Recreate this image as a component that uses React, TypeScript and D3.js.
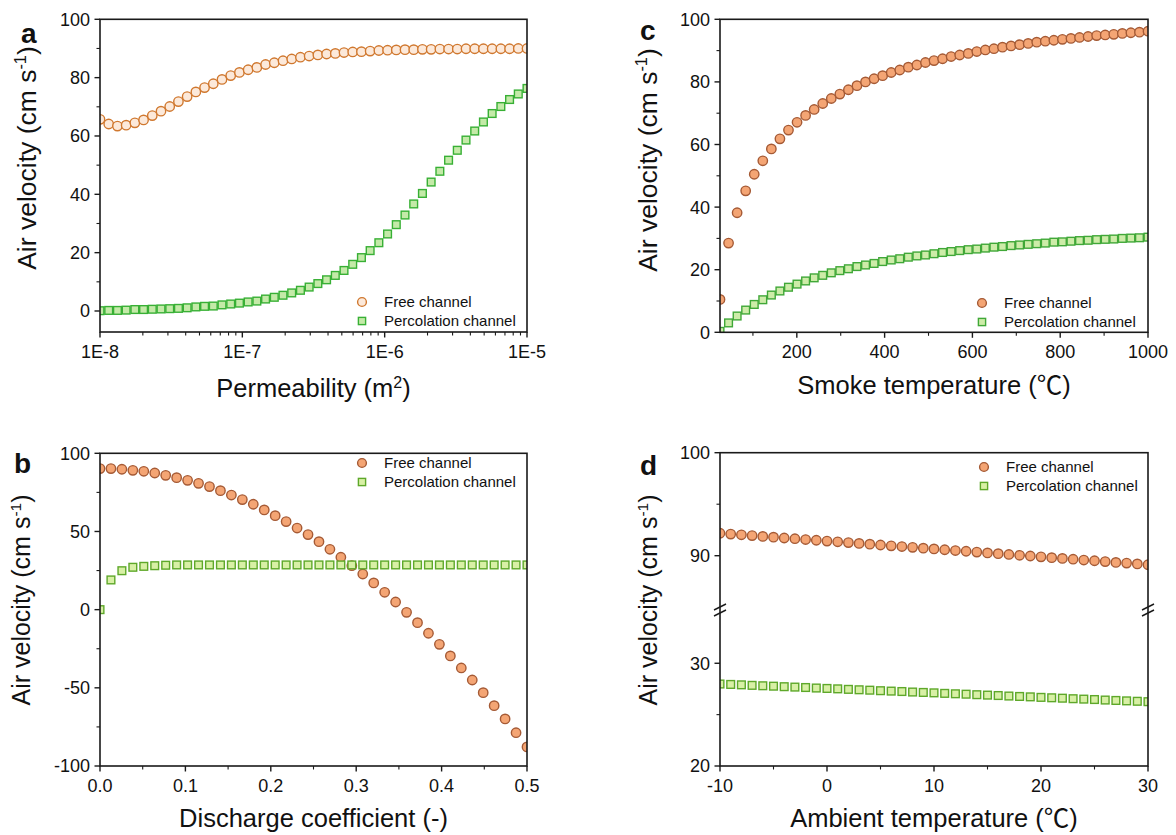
import React from 'react';
import * as d3 from 'd3';

const FONT = "'Liberation Sans', Arial, Helvetica, sans-serif";
const CJK = "'Noto Sans CJK SC', 'DejaVu Sans', sans-serif";
const AXIS = '#1a1a1a';

// ---- panel a: permeability (log10 exponents of m^2) ----
const permExp = d3.range(50).map((i) => -8 + (3 * i) / 49);
const aFree = [
  65.7, 64.1, 63.4, 63.7, 64.5, 65.5, 67.0, 68.5, 70.1, 71.8,
  73.5, 75.1, 76.6, 77.9, 79.4, 80.7, 81.8, 82.7, 83.5, 84.5,
  85.1, 85.8, 86.4, 87.0, 87.4, 87.8, 88.1, 88.3, 88.6, 88.8,
  88.9, 89.1, 89.3, 89.4, 89.5, 89.6, 89.6, 89.7, 89.7, 89.8,
  89.8, 89.8, 89.9, 89.9, 89.9, 89.9, 89.9, 89.9, 90.0, 90.0,
];
const aPerc = [
  0.1, 0.2, 0.2, 0.3, 0.5, 0.5, 0.6, 0.7, 0.8, 0.9,
  1.1, 1.4, 1.6, 1.7, 2.1, 2.4, 2.7, 3.1, 3.4, 4.1,
  4.7, 5.4, 6.2, 7.1, 8.2, 9.4, 10.7, 12.2, 13.9, 16.0,
  18.3, 20.7, 23.4, 26.4, 29.6, 32.9, 36.7, 40.3, 44.2, 47.9,
  51.7, 55.1, 58.6, 61.7, 64.8, 67.7, 70.1, 72.5, 74.4, 76.3,
];

// ---- panel b: discharge coefficient ----
const dischargeCoef = d3.range(40).map((i) => (0.5 * i) / 39);
const bFree = [
  90.2, 90.2, 89.8, 89.1, 88.5, 87.4, 85.9, 84.4, 82.7, 80.8,
  78.7, 76.1, 73.3, 70.4, 67.4, 63.8, 60.1, 56.3, 52.2, 48.0,
  43.5, 38.6, 33.5, 28.1, 22.8, 17.1, 11.1, 4.9, -1.7, -8.3,
  -15.1, -22.2, -29.6, -37.3, -45.0, -53.1, -61.4, -69.9, -78.7, -87.8,
];
const bPerc = [
  0, 19.0, 24.9, 27.1, 27.7, 28.1, 28.4, 28.6, 28.6, 28.6,
  28.6, 28.6, 28.6, 28.6, 28.6, 28.6, 28.6, 28.6, 28.6, 28.6,
  28.6, 28.6, 28.6, 28.6, 28.6, 28.6, 28.6, 28.6, 28.6, 28.6,
  28.6, 28.6, 28.6, 28.6, 28.6, 28.6, 28.6, 28.6, 28.6, 28.6,
];

// ---- panel c: smoke temperature ----
const smokeTemp = d3.range(51).map((i) => 25 + 19.5 * i);
const cFree = [
  10.5, 28.5, 38.2, 45.2, 50.5, 54.8, 58.6, 61.8, 64.6, 67.1,
  69.3, 71.2, 73.1, 74.7, 76.1, 77.5, 78.8, 80.0, 81.0, 82.0,
  83.0, 83.8, 84.7, 85.4, 86.2, 86.8, 87.4, 88.1, 88.6, 89.1,
  89.7, 90.2, 90.6, 91.1, 91.5, 91.9, 92.3, 92.7, 93.0, 93.3,
  93.6, 93.9, 94.2, 94.5, 94.8, 95.0, 95.2, 95.5, 95.7, 95.9, 96.2,
];
const cPerc = [
  0.3, 3.0, 5.2, 7.1, 8.9, 10.4, 11.9, 13.2, 14.4, 15.4,
  16.4, 17.4, 18.2, 19.0, 19.7, 20.3, 21.0, 21.5, 22.0, 22.6,
  23.1, 23.5, 24.0, 24.4, 24.7, 25.1, 25.5, 25.8, 26.1, 26.4,
  26.6, 26.9, 27.2, 27.4, 27.7, 27.9, 28.1, 28.3, 28.5, 28.8,
  28.9, 29.1, 29.3, 29.4, 29.6, 29.7, 29.8, 30.0, 30.1, 30.2, 30.4,
];

// ---- panel d: ambient temperature ----
const ambientTemp = d3.range(41).map((i) => -10 + i);
const dFree = [
  92.18, 92.10, 92.03, 91.95, 91.87, 91.80, 91.72, 91.65, 91.57, 91.50,
  91.42, 91.35, 91.27, 91.19, 91.12, 91.04, 90.96, 90.89, 90.81, 90.73,
  90.66, 90.58, 90.50, 90.43, 90.35, 90.27, 90.20, 90.12, 90.04, 89.97,
  89.89, 89.81, 89.74, 89.66, 89.58, 89.51, 89.43, 89.35, 89.28, 89.20, 89.12,
];
const dPerc = [
  27.98, 27.94, 27.90, 27.85, 27.81, 27.77, 27.72, 27.68, 27.64, 27.59,
  27.55, 27.51, 27.46, 27.42, 27.38, 27.33, 27.29, 27.25, 27.20, 27.16,
  27.12, 27.07, 27.03, 26.99, 26.94, 26.90, 26.86, 26.81, 26.77, 26.73,
  26.68, 26.64, 26.60, 26.55, 26.51, 26.47, 26.42, 26.38, 26.34, 26.30, 26.26,
];

const legendLabels = ['Free channel', 'Percolation channel'];

type Style = { stroke: string; fill: string };
const freeLight: Style = { stroke: '#d0782f', fill: '#fce9da' };
const percLight: Style = { stroke: '#38b035', fill: '#c4eaa8' };
const freeDark: Style = { stroke: '#a55a35', fill: '#f4a574' };
const percC: Style = { stroke: '#40a838', fill: '#cdeca8' };
const percYel: Style = { stroke: '#5ea82a', fill: '#d8f0a5' };

type Seg = { y: any; majors: number[]; minors: number[] };
type Series = { xs: number[]; ys: number[]; shape: 'circle' | 'square'; style: Style; seg: number };

interface PanelProps {
  id: string;
  letter: string;
  letterPos: [number, number];
  left: number;
  right: number;
  top: number;
  bottom: number;
  x: any;
  xMajors: number[];
  xMinors: number[];
  xFmt: (v: number) => string;
  xTitle: React.ReactNode;
  xTitleY: number;
  segs: Seg[];
  yTitlePos: [number, number];
  yTitleSize: number;
  series: Series[];
  legend: [number, number];
  breakY?: number;
}

const Marker = ({ shape, cx, cy, style, r = 4.7 }: { shape: string; cx: number; cy: number; style: Style; r?: number }) =>
  shape === 'circle' ? (
    <circle cx={cx} cy={cy} r={r} fill={style.fill} stroke={style.stroke} strokeWidth={1.4} />
  ) : (
    <rect x={cx - r * 0.82} y={cy - r * 0.82} width={r * 1.64} height={r * 1.64} fill={style.fill} stroke={style.stroke} strokeWidth={1.4} />
  );

const Panel = (p: PanelProps) => {
  const { left, right, top, bottom } = p;
  const ts = p.yTitleSize;
  return (
    <g fontFamily={FONT} fill="#111">
      <defs>
        <clipPath id={p.id}>
          <rect x={left} y={top} width={right - left} height={bottom - top} />
        </clipPath>
      </defs>
      <g clipPath={`url(#${p.id})`}>
        {p.series.map((s, si) =>
          s.xs.map((xv, i) => (
            <Marker key={`${si}-${i}`} shape={s.shape} cx={p.x(xv)} cy={p.segs[s.seg].y(s.ys[i])} style={s.style} />
          ))
        )}
      </g>
      <rect x={left} y={top} width={right - left} height={bottom - top} fill="none" stroke={AXIS} strokeWidth={1.6} />
      {/* x ticks */}
      {p.xMajors.map((v) => (
        <g key={`xm${v}`}>
          <line x1={p.x(v)} x2={p.x(v)} y1={bottom} y2={bottom + 5.5} stroke={AXIS} strokeWidth={1.4} />
          <text x={p.x(v)} y={bottom + 26} textAnchor="middle" fontSize={18}>
            {p.xFmt(v)}
          </text>
        </g>
      ))}
      {p.xMinors.map((v) => (
        <line key={`xn${v}`} x1={p.x(v)} x2={p.x(v)} y1={bottom} y2={bottom + 3.5} stroke={AXIS} strokeWidth={1.1} />
      ))}
      {/* y ticks */}
      {p.segs.map((sg, k) => (
        <g key={`seg${k}`}>
          {sg.majors.map((v) => (
            <g key={`ym${v}`}>
              <line x1={left - 5.5} x2={left} y1={sg.y(v)} y2={sg.y(v)} stroke={AXIS} strokeWidth={1.4} />
              <text x={left - 10} y={sg.y(v)} dy="0.36em" textAnchor="end" fontSize={18}>
                {v}
              </text>
            </g>
          ))}
          {sg.minors.map((v) => (
            <line key={`yn${v}`} x1={left - 3.5} x2={left} y1={sg.y(v)} y2={sg.y(v)} stroke={AXIS} strokeWidth={1.1} />
          ))}
        </g>
      ))}
      {p.breakY !== undefined &&
        [left, right].map((bx) => (
          <g key={`br${bx}`} stroke={AXIS} strokeWidth={1.5}>
            <line x1={bx - 6} x2={bx + 6} y1={p.breakY!} y2={p.breakY! - 6} />
            <line x1={bx - 6} x2={bx + 6} y1={p.breakY! + 6} y2={p.breakY!} />
          </g>
        ))}
      {/* titles */}
      <text x={(left + right) / 2} y={p.xTitleY} textAnchor="middle" fontSize={25.5}>
        {p.xTitle}
      </text>
      <text transform={`translate(${p.yTitlePos[0]},${p.yTitlePos[1]}) rotate(-90)`} textAnchor="middle" fontSize={ts}>
        Air velocity (cm s
        <tspan dy={-ts * 0.38} fontSize={ts * 0.62}>
          -1
        </tspan>
        <tspan dy={ts * 0.38}>)</tspan>
      </text>
      <text x={p.letterPos[0]} y={p.letterPos[1]} fontSize={28} fontWeight="bold">
        {p.letter}
      </text>
      {/* legend */}
      {p.series.map((s, i) => (
        <g key={`lg${i}`}>
          <Marker shape={s.shape} cx={p.legend[0]} cy={p.legend[1] + i * 19} style={s.style} r={4.4} />
          <text x={p.legend[0] + 22} y={p.legend[1] + i * 19 + 5.3} fontSize={15}>
            {legendLabels[i]}
          </text>
        </g>
      ))}
    </g>
  );
};

const range = (a: number, b: number, s: number) => d3.range(a, b + s / 2, s);

export default function App() {
  // panel a
  const xA = d3.scaleLog().domain([1e-8, 1e-5]).range([100, 527]);
  const yA = d3.scaleLinear().domain([-7.2, 100]).range([332, 19.3]);
  const logMinors: number[] = [];
  [-8, -7, -6].forEach((e) => d3.range(2, 10).forEach((k) => logMinors.push(k * 10 ** e)));

  // panel b
  const xB = d3.scaleLinear().domain([0, 0.5]).range([100, 527]);
  const yB = d3.scaleLinear().domain([-100, 100]).range([766, 453.3]);

  // panel c
  const xC = d3.scaleLinear().domain([25, 1000]).range([720, 1148]);
  const yC = d3.scaleLinear().domain([0, 100]).range([332.3, 19.3]);

  // panel d (broken axis)
  const xD = d3.scaleLinear().domain([-10, 30]).range([720, 1148]);
  const yDlow = d3.scaleLinear().domain([20, 35]).range([766, 611.9]);
  const yDup = d3.scaleLinear().domain([85, 100]).range([607.2, 452.7]);

  const deg = (label: string) => (
    <>
      {label} (<tspan fontFamily={CJK}>℃</tspan>)
    </>
  );

  return (
    <svg width={1176} height={835} style={{ position: 'absolute', left: 0, top: 0, background: '#fff' }}>
      <Panel
        id="clipA"
        letter="a"
        letterPos={[21, 43]}
        left={100}
        right={527}
        top={19.3}
        bottom={332}
        x={xA}
        xMajors={[1e-8, 1e-7, 1e-6, 1e-5]}
        xMinors={logMinors}
        xFmt={(v) => `1E${Math.round(Math.log10(v))}`}
        xTitle={
          <>
            Permeability (m<tspan dy={-9} fontSize={16}>2</tspan>
            <tspan dy={9}>)</tspan>
          </>
        }
        xTitleY={397}
        segs={[{ y: yA, majors: range(0, 100, 20), minors: range(10, 90, 20) }]}
        yTitlePos={[36, 158]}
        yTitleSize={26.5}
        series={[
          { xs: permExp.map((e) => 10 ** e), ys: aFree, shape: 'circle', style: freeLight, seg: 0 },
          { xs: permExp.map((e) => 10 ** e), ys: aPerc, shape: 'square', style: percLight, seg: 0 },
        ]}
        legend={[362, 302]}
      />
      <Panel
        id="clipB"
        letter="b"
        letterPos={[14, 473]}
        left={100}
        right={527}
        top={453.3}
        bottom={766}
        x={xB}
        xMajors={range(0, 0.5, 0.1)}
        xMinors={range(0.05, 0.45, 0.1)}
        xFmt={(v) => v.toFixed(1)}
        xTitle="Discharge coefficient (-)"
        xTitleY={827}
        segs={[{ y: yB, majors: range(-100, 100, 50), minors: range(-75, 75, 50) }]}
        yTitlePos={[30, 600]}
        yTitleSize={25}
        series={[
          { xs: dischargeCoef, ys: bFree, shape: 'circle', style: freeDark, seg: 0 },
          { xs: dischargeCoef, ys: bPerc, shape: 'square', style: percYel, seg: 0 },
        ]}
        legend={[362, 463]}
      />
      <Panel
        id="clipC"
        letter="c"
        letterPos={[640, 40]}
        left={720}
        right={1148}
        top={19.3}
        bottom={332.3}
        x={xC}
        xMajors={range(200, 1000, 200)}
        xMinors={range(100, 900, 200)}
        xFmt={(v) => `${v}`}
        xTitle={deg('Smoke temperature')}
        xTitleY={394}
        segs={[{ y: yC, majors: range(0, 100, 20), minors: range(10, 90, 20) }]}
        yTitlePos={[657, 160]}
        yTitleSize={26.5}
        series={[
          { xs: smokeTemp, ys: cFree, shape: 'circle', style: freeDark, seg: 0 },
          { xs: smokeTemp, ys: cPerc, shape: 'square', style: percC, seg: 0 },
        ]}
        legend={[982, 303]}
      />
      <Panel
        id="clipD"
        letter="d"
        letterPos={[640, 475]}
        left={720}
        right={1148}
        top={452.7}
        bottom={766}
        x={xD}
        xMajors={range(-10, 30, 10)}
        xMinors={range(-5, 25, 10)}
        xFmt={(v) => `${v}`}
        xTitle={deg('Ambient temperature')}
        xTitleY={827}
        segs={[
          { y: yDlow, majors: [20, 30], minors: [25] },
          { y: yDup, majors: [90, 100], minors: [95] },
        ]}
        yTitlePos={[657, 600]}
        yTitleSize={25}
        series={[
          { xs: ambientTemp, ys: dFree, shape: 'circle', style: freeDark, seg: 1 },
          { xs: ambientTemp, ys: dPerc, shape: 'square', style: percYel, seg: 0 },
        ]}
        legend={[984, 467]}
        breakY={610}
      />
    </svg>
  );
}
